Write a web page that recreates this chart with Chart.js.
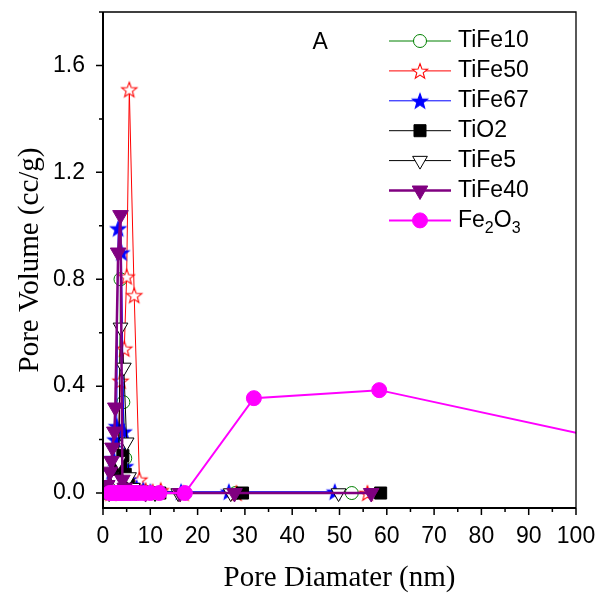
<!DOCTYPE html>
<html>
<head>
<meta charset="utf-8">
<script src="https://cdn.jsdelivr.net/npm/chart.js@4.4.0/dist/chart.umd.min.js"></script>
<style>
body { margin: 0; background: #fff; }
#wrap { width: 603px; height: 596px; }
</style>
</head>
<body>
<div id="wrap"><canvas id="Chart" width="603" height="596"></canvas></div>
<script>
// pore size distributions
var tife10X = [1.4, 2.0, 2.5, 3.0, 3.4, 3.7, 4.3, 4.7, 5.3, 6.0, 7.2, 9.0, 11.0, 28.0, 52.6];
var tife10Y = [0.0, 0.01, 0.03, 0.06, 0.15, 0.80, 0.34, 0.13, 0.04, 0.02, 0.01, 0.005, 0.0, 0.0, 0.0];

var tife50X = [1.6, 2.0, 2.5, 3.0, 3.7, 4.5, 5.0, 5.56, 6.6, 7.7, 9.0, 10.5, 12.2, 17.0, 28.2, 55.9];
var tife50Y = [0.0, 0.01, 0.03, 0.08, 0.42, 0.54, 0.81, 1.51, 0.74, 0.05, 0.01, 0.005, 0.01, 0.0, 0.0, 0.0];

var tife67X = [1.4, 1.8, 2.2, 2.6, 2.9, 3.2, 3.9, 4.4, 4.7, 5.3, 6.0, 7.1, 8.5, 10.0, 16.5, 26.6, 49.0];
var tife67Y = [0.03, 0.08, 0.13, 0.20, 0.25, 0.99, 0.90, 0.23, 0.10, 0.05, 0.03, 0.02, 0.01, 0.005, 0.005, 0.005, 0.005];

var tio2X = [1.4, 2.0, 2.6, 3.2, 3.7, 4.2, 4.7, 5.3, 6.2, 7.5, 9.5, 12.0, 29.5, 58.7];
var tio2Y = [0.0, 0.01, 0.02, 0.05, 0.10, 0.14, 0.07, 0.03, 0.01, 0.005, 0.0, 0.0, 0.0, 0.0];

var tife5X = [1.3, 1.8, 2.3, 2.8, 3.3, 3.7, 4.4, 5.0, 5.5, 6.3, 7.5, 9.0, 11.0, 15.9, 27.0, 49.8];
var tife5Y = [0.0, 0.01, 0.02, 0.05, 0.12, 0.62, 0.47, 0.19, 0.06, 0.02, 0.01, 0.005, 0.0, 0.0, 0.0, 0.0];

var tife40X = [0.9, 1.5, 1.8, 2.0, 2.4, 2.6, 3.2, 3.7, 4.1, 4.6, 5.5, 7.0, 9.0, 16.3, 27.8, 56.7];
var tife40Y = [0.03, 0.08, 0.12, 0.17, 0.23, 0.32, 0.90, 1.04, 0.05, 0.02, 0.01, 0.005, 0.0, 0.0, 0.0, 0.0];

var fe2o3X = [1.4, 1.8, 2.2, 2.6, 3.0, 3.4, 3.8, 4.3, 4.8, 5.4, 6.0, 6.8, 7.7, 8.7, 10.0, 11.9, 17.3, 31.9, 58.4, 112];
var fe2o3Y = [0.0, 0.0, 0.0, 0.0, 0.0, 0.0, 0.0, 0.0, 0.0, 0.0, 0.0, 0.0, 0.0, 0.0, 0.0, 0.0, 0.0, 0.355, 0.385, 0.18];

var xMajor = [0, 10, 20, 30, 40, 50, 60, 70, 80, 90, 100];
var xMinor = [5, 15, 25, 35, 45, 55, 65, 75, 85, 95];
var yMajor = [0.0, 0.4, 0.8, 1.2, 1.6];
var yMinor = [0.2, 0.6, 1.0, 1.4, 1.8];

var tickFont = '"Liberation Sans", Arial, sans-serif';
var titleFont = '"Liberation Serif", "Times New Roman", serif';

function makeStar(fill, stroke, r) {
    var c = document.createElement('canvas');
    var s = Math.ceil(r * 2 + 4);
    c.width = s; c.height = s;
    var g = c.getContext('2d');
    g.translate(s / 2, s / 2 + r * 0.1);
    g.beginPath();
    for (var i = 0; i < 10; i++) {
        var a = -Math.PI / 2 + i * Math.PI / 5;
        var rr = i % 2 == 0 ? r : r * 0.42;
        g.lineTo(rr * Math.cos(a), rr * Math.sin(a));
    }
    g.closePath();
    g.fillStyle = fill; g.fill();
    g.lineWidth = 1.1; g.strokeStyle = stroke; g.stroke();
    return c;
}

function pts(xs, ys) {
    return xs.map(function(x, i) { return {x: x, y: ys[i]}; });
}

var series = [
    {label: 'TiFe10', x: tife10X, y: tife10Y, color: '#008000', fill: '#ffffff', style: 'circle', rot: 0, r: 6.5, lw: 1},
    {label: 'TiFe50', x: tife50X, y: tife50Y, color: '#ff0000', fill: '#ffffff', style: makeStar('#ffffff', '#ff0000', 8), rot: 0, r: 8, lw: 1},
    {label: 'TiFe67', x: tife67X, y: tife67Y, color: '#0000ff', fill: '#0000ff', style: makeStar('#0000ff', '#0000ff', 8), rot: 0, r: 8, lw: 1},
    {label: 'TiO2', x: tio2X, y: tio2Y, color: '#000000', fill: '#000000', style: 'rect', rot: 0, r: 8.5, lw: 1},
    {label: 'TiFe5', x: tife5X, y: tife5Y, color: '#000000', fill: '#ffffff', style: 'triangle', rot: 180, r: 8.5, lw: 1},
    {label: 'TiFe40', x: tife40X, y: tife40Y, color: '#800080', fill: '#800080', style: 'triangle', rot: 180, r: 9, lw: 2.5},
    {label: 'Fe2O3', x: fe2o3X, y: fe2o3Y, color: '#ff00ff', fill: '#ff00ff', style: 'circle', rot: 0, r: 7.5, lw: 2}
];

var datasets = series.map(function(s, i) {
    return {
        label: s.label,
        data: pts(s.x, s.y),
        borderColor: s.color,
        backgroundColor: s.fill,
        borderWidth: s.lw,
        pointStyle: s.style,
        pointRotation: s.rot,
        pointRadius: s.r,
        pointBorderColor: s.color,
        pointBackgroundColor: s.fill,
        pointBorderWidth: 1,
        tension: 0,
        order: series.length - 1 - i
    };
});

var framePlugin = {
    id: 'frame',
    afterDraw: function(chart) {
        var ctx = chart.ctx;
        var a = chart.chartArea;
        var xs = chart.scales.x, ys = chart.scales.y;
        ctx.save();
        ctx.strokeStyle = '#000';
        // box
        ctx.lineWidth = 1.3;
        ctx.beginPath();
        ctx.moveTo(a.left, a.top); ctx.lineTo(a.right, a.top); ctx.lineTo(a.right, a.bottom);
        ctx.stroke();
        ctx.lineWidth = 2;
        ctx.beginPath();
        ctx.moveTo(a.left, a.top); ctx.lineTo(a.left, a.bottom); ctx.lineTo(a.right, a.bottom);
        ctx.stroke();
        // ticks
        ctx.lineWidth = 1.5;
        ctx.beginPath();
        xMajor.forEach(function(v) { var p = xs.getPixelForValue(v); ctx.moveTo(p, a.bottom); ctx.lineTo(p, a.bottom + 7); });
        xMinor.forEach(function(v) { var p = xs.getPixelForValue(v); ctx.moveTo(p, a.bottom); ctx.lineTo(p, a.bottom + 4); });
        yMajor.forEach(function(v) { var p = ys.getPixelForValue(v); ctx.moveTo(a.left, p); ctx.lineTo(a.left - 7, p); });
        yMinor.forEach(function(v) { var p = ys.getPixelForValue(v); ctx.moveTo(a.left, p); ctx.lineTo(a.left - 4, p); });
        ctx.stroke();
        // panel letter
        ctx.fillStyle = '#000';
        ctx.font = '23px ' + tickFont;
        ctx.textAlign = 'center';
        ctx.textBaseline = 'middle';
        ctx.fillText('A', xs.getPixelForValue(45.9), ys.getPixelForValue(1.686));
        // legend
        var lx0 = 389, lx1 = 451, mx = 420, tx = 458, ly = 41, step = 29.9;
        series.forEach(function(s, i) {
            var y = ly + i * step;
            ctx.strokeStyle = s.color;
            ctx.lineWidth = s.lw;
            ctx.beginPath(); ctx.moveTo(lx0, y); ctx.lineTo(lx1, y); ctx.stroke();
            ctx.fillStyle = s.fill;
            ctx.strokeStyle = s.color;
            ctx.lineWidth = 1;
            Chart.helpers.drawPoint(ctx, {pointStyle: s.style, rotation: s.rot, radius: s.r, borderWidth: 1}, mx, y);
            ctx.fillStyle = '#000';
            ctx.textAlign = 'left';
            ctx.textBaseline = 'middle';
            ctx.font = '23px ' + tickFont;
            if (s.label == 'Fe2O3') {
                var x = tx;
                ctx.fillText('Fe', x, y); x += ctx.measureText('Fe').width;
                ctx.font = '16px ' + tickFont;
                ctx.fillText('2', x, y + 8); x += ctx.measureText('2').width;
                ctx.font = '23px ' + tickFont;
                ctx.fillText('O', x, y); x += ctx.measureText('O').width;
                ctx.font = '16px ' + tickFont;
                ctx.fillText('3', x, y + 8);
            } else {
                ctx.fillText(s.label, tx, y);
            }
        });
        ctx.restore();
    }
};

var ctx = document.getElementById('Chart').getContext('2d');
var myChart = new Chart(ctx, {
    type: 'line',
    data: { datasets: datasets },
    options: {
        responsive: false,
        animation: false,
        layout: { padding: { top: 12, right: 27, left: 0, bottom: 0 } },
        plugins: { legend: { display: false }, tooltip: { enabled: false } },
        scales: {
            x: {
                type: 'linear',
                min: 0,
                max: 100,
                afterFit: function(scale) { scale.height = 88; scale.paddingLeft = 0; scale.paddingRight = 0; },
                afterBuildTicks: function(scale) { scale.ticks = xMajor.map(function(v) { return {value: v}; }); },
                grid: { display: true, drawOnChartArea: false, color: 'rgba(0,0,0,0)', tickLength: 7 },
                border: { display: false },
                ticks: { color: '#000', font: { family: tickFont, size: 23 }, padding: 8, maxRotation: 0, autoSkip: false },
                title: { display: true, text: 'Pore Diamater (nm)', color: '#000', font: { family: titleFont, size: 29 }, padding: { top: 0, bottom: 0 } }
            },
            y: {
                type: 'linear',
                min: -0.056,
                max: 1.8,
                afterFit: function(scale) { scale.width = 103; scale.paddingTop = 0; scale.paddingBottom = 0; },
                afterBuildTicks: function(scale) { scale.ticks = yMajor.map(function(v) { return {value: v}; }); },
                grid: { display: true, drawOnChartArea: false, color: 'rgba(0,0,0,0)', tickLength: 7 },
                border: { display: false },
                ticks: { color: '#000', font: { family: tickFont, size: 23 }, padding: 11, autoSkip: false,
                    callback: function(v) { return Number(v).toFixed(1); } },
                title: { display: true, text: 'Pore Volume (cc/g)', color: '#000', font: { family: titleFont, size: 29 }, padding: { top: 13, bottom: 0 } }
            }
        }
    },
    plugins: [framePlugin]
});
</script>
</body>
</html>
